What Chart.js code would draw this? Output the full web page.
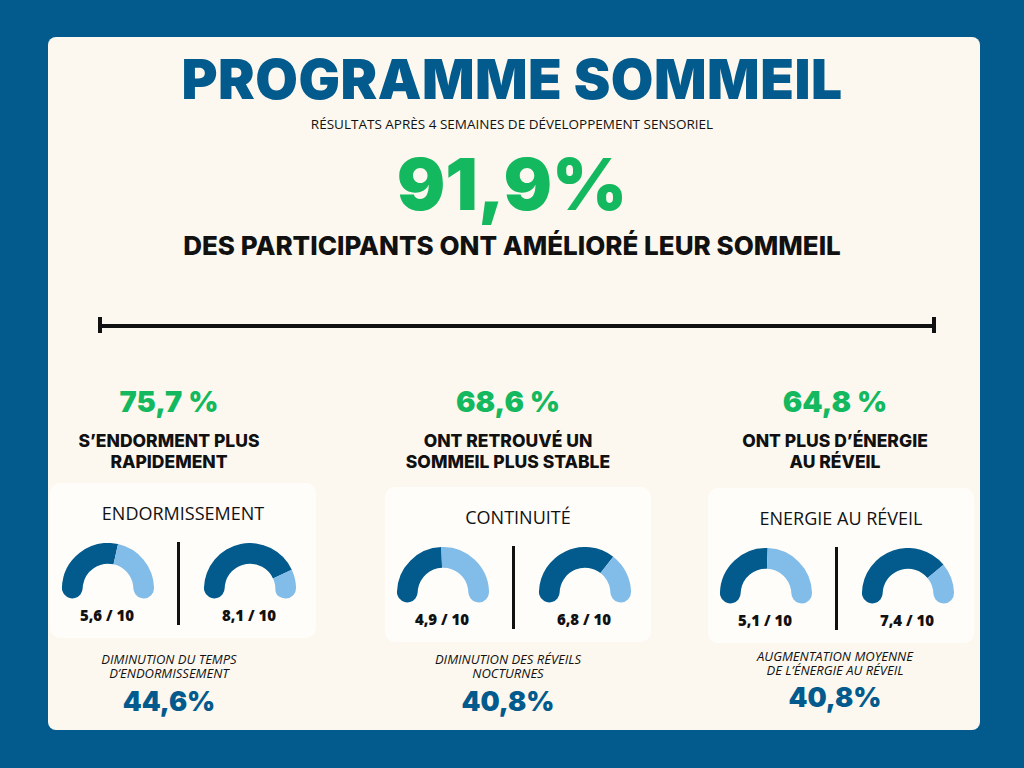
<!DOCTYPE html><html><head><meta charset="utf-8">
<script src="https://cdn.jsdelivr.net/npm/chart.js@4"></script>
<style>
body{margin:0;width:1024px;height:768px;background:#035a8c;font-family:"Open Sans",Inter,sans-serif;position:relative;overflow:hidden}
.card{position:absolute;left:48px;top:37px;width:932px;height:693px;background:#fcf8ef;border-radius:8px}
.t{position:absolute;left:0;width:1024px;text-align:center}
.abs{position:absolute;text-align:center}
.panel{position:absolute;background:#fffdf9;border-radius:10px}
.g{position:absolute;width:110px;height:60px}
.lbl{position:absolute;font-weight:800;font-size:15px;color:#111;text-align:center;width:110px}
.sep{position:absolute;width:3px;background:#111}
</style></head><body>
<div class="card"></div>
<div class="t" style="top:46px;font-family:Inter,sans-serif;font-weight:900;font-size:55px;color:#035a8c;letter-spacing:0.5px">PROGRAMME SOMMEIL</div>
<div class="t" style="top:115px;font-size:13.5px;color:#111">RÉSULTATS APRÈS 4 SEMAINES DE DÉVELOPPEMENT SENSORIEL</div>
<div class="t" style="top:140px;font-family:Inter,sans-serif;font-weight:900;font-size:72px;color:#14b85e">91,9%</div>
<div class="t" style="top:230px;font-family:Inter,sans-serif;font-weight:800;font-size:26px;color:#111">DES PARTICIPANTS ONT AMÉLIORÉ LEUR SOMMEIL</div>
<div style="position:absolute;left:100px;top:324px;width:834px;height:4px;background:#111"></div>
<div style="position:absolute;left:98px;top:317px;width:4px;height:16px;background:#111"></div>
<div style="position:absolute;left:932px;top:317px;width:4px;height:16px;background:#111"></div>
<div id="root"></div>
<script>
const percents=["75,7 %","68,6 %","64,8 %"];
const captions=["S’ENDORMENT PLUS<br>RAPIDEMENT","ONT RETROUVÉ UN<br>SOMMEIL PLUS STABLE","ONT PLUS D’ÉNERGIE<br>AU RÉVEIL"];
const categories=["ENDORMISSEMENT","CONTINUITÉ","ENERGIE AU RÉVEIL"];
const beforeScores=[5.6,4.9,5.1];
const afterScores=[8.1,6.8,7.4];
const scoreLabels=[["5,6 / 10","8,1 / 10"],["4,9 / 10","6,8 / 10"],["5,1 / 10","7,4 / 10"]];
const notes=["DIMINUTION DU TEMPS<br>D’ENDORMISSEMENT","DIMINUTION DES RÉVEILS<br>NOCTURNES","AUGMENTATION MOYENNE<br>DE L’ÉNERGIE AU RÉVEIL"];
const gains=["44,6%","40,8%","40,8%"];
const maxScore=10;
const cols=[{cx:169,px:50,py:483},{cx:508,px:385,py:487},{cx:835,px:708,py:488}];
const root=document.getElementById('root');
function add(html){root.insertAdjacentHTML('beforeend',html);}
cols.forEach((c,i)=>{
 add(`<div class="abs" style="left:${c.cx-150}px;width:300px;top:384px;font-family:Inter,sans-serif;font-weight:900;font-size:29px;color:#14b85e">${percents[i]}</div>`);
 add(`<div class="abs" style="left:${c.cx-170}px;width:340px;top:430px;font-family:Inter,sans-serif;font-weight:800;font-size:17.5px;line-height:21px;color:#111">${captions[i]}</div>`);
 add(`<div class="panel" style="left:${c.px}px;top:${c.py}px;width:266px;height:155px"></div>`);
 add(`<div class="abs" style="left:${c.px}px;width:266px;top:${c.py+18}px;font-size:18px;color:#111">${categories[i]}</div>`);
 const mid=c.px+127;
 add(`<div class="sep" style="left:${mid}px;top:${c.py+59}px;height:83px"></div>`);
 [[c.px+4,beforeScores[i],0],[c.px+146,afterScores[i],1]].forEach(([x,v,k])=>{
   add(`<div class="g" style="left:${x}px;top:${c.py+60}px"><canvas id="g${i}${k}" width="108" height="58"></canvas></div>`);
   add(`<div class="lbl" style="left:${x-2}px;top:${c.py+122}px">${scoreLabels[i][k]}</div>`);
 });
 add(`<div class="abs" style="left:${c.cx-160}px;width:320px;top:${652-(i==2?3:0)}px;font-style:italic;font-size:13px;line-height:14px;color:#111">${notes[i]}</div>`);
 add(`<div class="abs" style="left:${c.cx-150}px;width:300px;top:${685-(i==2?4:0)}px;font-family:Inter,sans-serif;font-weight:900;font-size:27px;color:#035a8c">${gains[i]}</div>`);
});
const R=13;
cols.forEach((c,i)=>{[beforeScores[i],afterScores[i]].forEach((v,k)=>{
 new Chart(document.getElementById('g'+i+k),{type:'doughnut',
  data:{datasets:[{data:[v,maxScore-v],backgroundColor:['#035a8c','#82bce8'],borderWidth:0,
   borderRadius:[{outerStart:R,innerStart:R,outerEnd:0,innerEnd:0},{outerStart:0,innerStart:0,outerEnd:R,innerEnd:R}]}]},
  options:{responsive:false,animation:false,rotation:-105,circumference:210,cutout:'55%',
   plugins:{legend:{display:false},tooltip:{enabled:false}}}});
});});
</script></body></html>
